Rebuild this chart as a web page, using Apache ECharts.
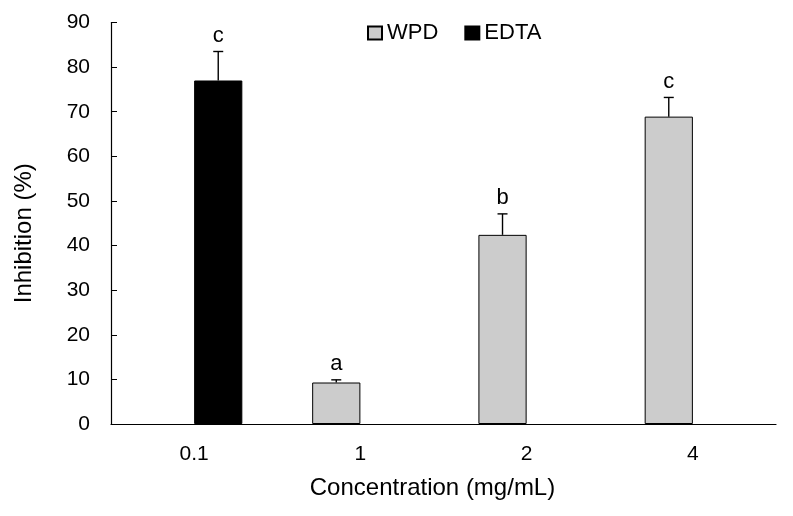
<!DOCTYPE html>
<html>
<head>
<meta charset="utf-8">
<script src="https://cdn.jsdelivr.net/npm/echarts@6/dist/echarts.min.js"></script>
<style>
html,body{margin:0;padding:0;background:#fff;}
#chart{width:793px;height:516px;}
</style>
</head>
<body>
<div id="chart"></div>
<script>
const categories = ['0.1', '1', '2', '4'];
const wpdValues = [null, 9.3, 42.4, 68.9];
const wpdErrors = [null, 0.6, 4.7, 4.3];
const wpdLetters = ['', 'a', 'b', 'c'];
const edtaValues = [77.0, null, null, null];
const edtaErrors = [6.5, null, null, null];
const edtaLetters = ['c', '', '', ''];
const yTicks = [0, 10, 20, 30, 40, 50, 60, 70, 80, 90];

const FONT = 'Liberation Sans, Arial, sans-serif';
const BAR_FRAC = 0.29;

function errData(vals, errs, letters) {
  const out = [];
  vals.forEach((v, i) => {
    if (v !== null && v !== undefined) out.push([i, v, errs[i], letters[i]]);
  });
  return out;
}

function makeErrRender(sign, letters) {
  return function (params, api) {
    const idx = api.value(0);
    const v = api.value(1);
    const e = api.value(2);
    const catW = api.size([1, 0])[0];
    const off = sign * catW * BAR_FRAC / 2;
    const base = api.coord([idx, v]);
    const top = api.coord([idx, v + e]);
    const x = base[0] + off;
    const capW = 5;
    const letter = letters[idx];
    return {
      type: 'group',
      children: [
        { type: 'line', shape: { x1: x, y1: base[1], x2: x, y2: top[1] }, style: { stroke: '#000', lineWidth: 1.4 } },
        { type: 'line', shape: { x1: x - capW, y1: top[1], x2: x + capW, y2: top[1] }, style: { stroke: '#000', lineWidth: 1.4 } },
        { type: 'text', style: { x: x, y: top[1] - 5, text: letter, fill: '#000', font: '22px ' + FONT, textAlign: 'center', textVerticalAlign: 'bottom' } }
      ]
    };
  };
}

const chart = echarts.init(document.getElementById('chart'), null, { renderer: 'canvas' });
chart.setOption({
  animation: false,
  backgroundColor: '#fff',
  textStyle: { fontFamily: FONT, color: '#000' },
  legend: {
    data: ['WPD', 'EDTA'],
    top: 17,
    left: 362,
    icon: 'rect',
    itemWidth: 14,
    itemHeight: 13,
    itemGap: 26,
    textStyle: { fontSize: 22, color: '#000', fontFamily: FONT }
  },
  grid: { left: 111, right: 17, top: 22.5, bottom: 92 },
  xAxis: {
    type: 'category',
    data: categories,
    boundaryGap: true,
    name: 'Concentration (mg/mL)',
    nameLocation: 'middle',
    nameGap: 52,
    nameTextStyle: { fontSize: 24, color: '#000', fontFamily: FONT, padding: [0, 22, 0, 0] },
    axisLine: { lineStyle: { color: '#000', width: 1.2 } },
    axisTick: { inside: true, length: 6, lineStyle: { color: '#000' } },
    axisLabel: { fontSize: 21, color: '#000', margin: 20, fontFamily: FONT },
    splitLine: { show: false }
  },
  yAxis: {
    type: 'value',
    min: yTicks[0],
    max: yTicks[yTicks.length - 1],
    interval: 10,
    name: 'Inhibition (%)',
    nameLocation: 'middle',
    nameGap: 75,
    nameTextStyle: { fontSize: 24, color: '#000', fontFamily: FONT, padding: [0, 20, 0, 0] },
    axisLine: { show: true, lineStyle: { color: '#000', width: 1.2 } },
    axisTick: { show: true, inside: true, length: 6, lineStyle: { color: '#000' } },
    axisLabel: { fontSize: 21, color: '#000', margin: 21, fontFamily: FONT },
    splitLine: { show: false }
  },
  series: [
    {
      name: 'WPD',
      type: 'bar',
      data: wpdValues,
      barWidth: (BAR_FRAC * 100) + '%',
      barGap: '0%',
      itemStyle: { color: '#cccccc', borderColor: '#000', borderWidth: 1 }
    },
    {
      name: 'EDTA',
      type: 'bar',
      data: edtaValues,
      barWidth: (BAR_FRAC * 100) + '%',
      barGap: '0%',
      itemStyle: { color: '#000', borderColor: '#000', borderWidth: 1 }
    },
    {
      name: 'wpdErr',
      type: 'custom',
      data: errData(wpdValues, wpdErrors, wpdLetters),
      renderItem: makeErrRender(-1, wpdLetters),
      encode: { x: 0, y: 1 },
      z: 5
    },
    {
      name: 'edtaErr',
      type: 'custom',
      data: errData(edtaValues, edtaErrors, edtaLetters),
      renderItem: makeErrRender(1, edtaLetters),
      encode: { x: 0, y: 1 },
      z: 5
    }
  ]
});
</script>
</body>
</html>
